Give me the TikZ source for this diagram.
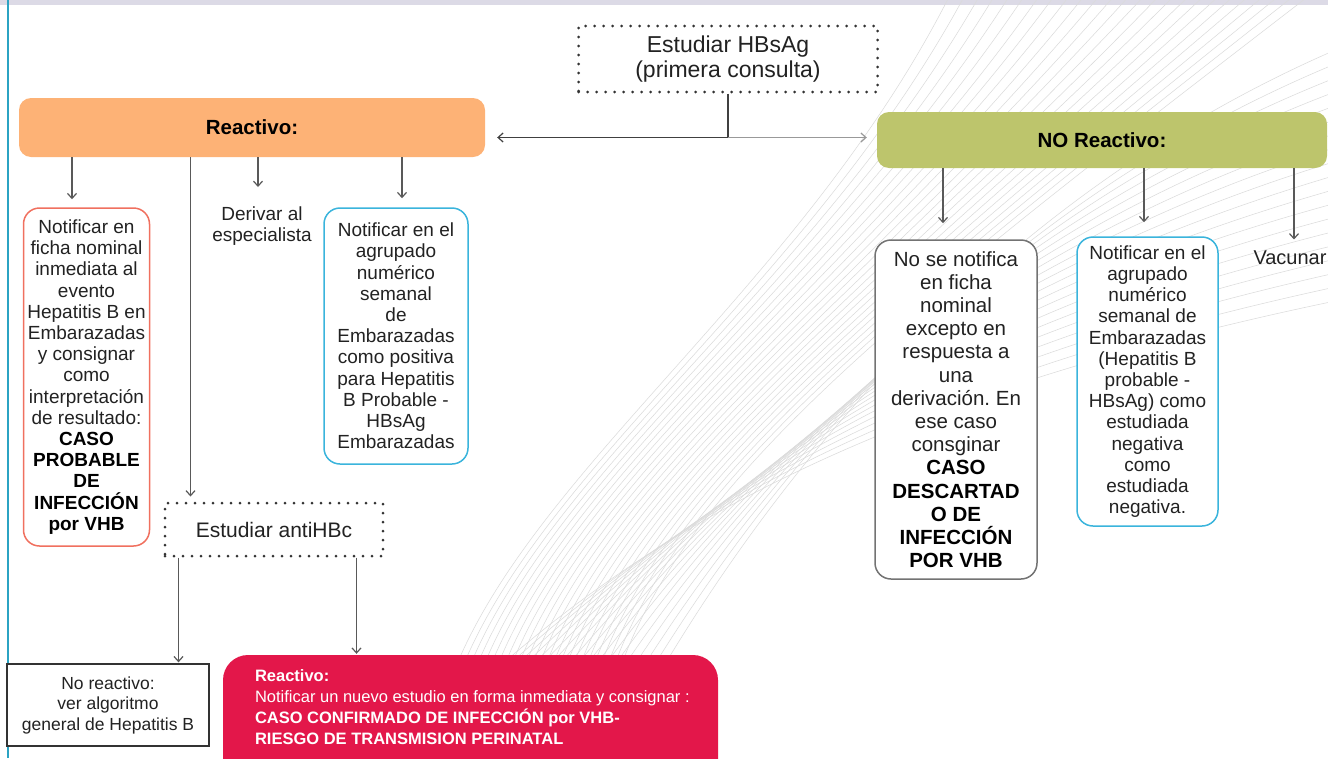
\documentclass[tikz,border=0pt]{standalone}
\usepackage{fontspec}
\setmainfont{Liberation Sans}
\usepackage{tikz}
\usetikzlibrary{arrows.meta, positioning}
\frenchspacing

\definecolor{orangeR}{RGB}{253,178,118}
\definecolor{greenN}{RGB}{189,197,108}
\definecolor{redline}{RGB}{240,112,95}
\definecolor{blueline}{RGB}{58,180,220}
\definecolor{crimson}{RGB}{227,23,74}
\definecolor{sideline}{RGB}{43,163,195}
\definecolor{band}{RGB}{220,218,230}
\definecolor{txt}{RGB}{34,34,34}

\begin{document}
\begin{tikzpicture}[x=1pt, y=-1pt,
        header/.style={rectangle, rounded corners=12pt, text=black, font=\fontsize{20.5}{23}\selectfont\bfseries},
        result/.style={rectangle, rounded corners=16pt, line width=1.5pt, fill=white, align=center, inner sep=2pt, text=txt, font=\fontsize{19}{21.2}\selectfont},
        study/.style={rectangle, draw=black!80, line width=3pt, dash pattern=on 0pt off 9pt, line cap=round, align=center, text=txt},
        line/.style={draw=black!65, line width=1.2pt, -{Straight Barb[length=5pt,width=9pt]}},
        swirl/.style={draw=black!14, line width=0.55pt}
    ]
        \useasboundingbox (0,0) rectangle (1328,758);
        \clip (0,0) rectangle (1328,758);
        % Background
        \fill[band] (0,0) rectangle (1328,5);
        \foreach \i in {0,...,24} {
            \draw[swirl] (430+7*\i,770) .. controls (450+7*\i,520) and (780+4*\i,330) .. (950+15*\i,-5);
        }
        \foreach \i in {0,...,18} {
            \draw[swirl] (390+12*\i,770) .. controls (560+10*\i,600-5*\i) and (760+12*\i,420-12*\i) .. (1340,300-14*\i);
        }
        \draw[sideline, line width=2.5pt] (8,0) -- (8,758);
        % Start node
        \node[study, fill=white, minimum width=299pt, minimum height=66pt, font=\fontsize{23}{25}\selectfont] (hbsag) at (728,59) {Estudiar HBsAg\\(primera consulta)};
        % Results of the first test
        \node[header, fill=orangeR, minimum width=466pt, minimum height=59pt] (reac) at (252,127.5) {Reactivo:};
        \node[header, fill=greenN, minimum width=450pt, minimum height=56pt] (noreac) at (1102,140) {NO Reactivo:};
        % Reactive branch
        \node[result, draw=redline, minimum width=126pt, minimum height=338pt] (probable) at (86.5,377) {Notificar en\\ficha nominal\\inmediata al\\evento\\Hepatitis B en\\Embarazadas\\y consignar\\como\\interpretación\\de resultado:\\\textbf{\color{black}CASO}\\\textbf{\color{black}PROBABLE}\\\textbf{\color{black}DE}\\\textbf{\color{black}INFECCIÓN}\\\textbf{\color{black}por VHB}};
        \node[align=center, text=txt, font=\fontsize{19}{21.2}\selectfont] (derivar) at (262,226) {Derivar al\\especialista};
        \node[result, draw=blueline, minimum width=144pt, minimum height=256pt] (agrupado) at (396,336) {Notificar en el\\agrupado\\numérico\\semanal\\de\\Embarazadas\\como positiva\\para Hepatitis\\B Probable -\\HBsAg\\Embarazadas};
        \node[study, fill=white, minimum width=218pt, minimum height=53pt, font=\fontsize{21}{23}\selectfont] (antihbc) at (274,529.5) {Estudiar antiHBc};
        % Second test
        \node[rectangle, draw=black!80, line width=1.3pt, fill=white, align=center, text=txt, minimum width=202pt, minimum height=82pt, font=\fontsize{17.5}{20.5}\selectfont] (general) at (108,705) {No reactivo:\\ver algoritmo\\general de Hepatitis B};
        \node[rectangle, rounded corners=25pt, fill=crimson, minimum width=495pt, minimum height=135pt] (confirmado) at (470.5,722.5) {};
        \node[anchor=north west, align=left, text=white, inner sep=0pt, font=\fontsize{16.5}{21}\selectfont] (conftext) at ([xshift=32pt, yshift=-15pt]confirmado.north west) {\textbf{Reactivo:}\\Notificar un nuevo estudio en forma inmediata y consignar :\\\textbf{CASO CONFIRMADO DE INFECCIÓN por VHB-}\\\textbf{RIESGO DE TRANSMISION PERINATAL}};
        % Non reactive branch
        \node[result, draw=black!55, minimum width=162pt, minimum height=339pt, font=\fontsize{20.5}{23.2}\selectfont] (descartado) at (956,409.5) {No se notifica\\en ficha\\nominal\\excepto en\\respuesta a\\una\\derivación. En\\ese caso\\consginar\\\textbf{\color{black}CASO}\\\textbf{\color{black}DESCARTAD}\\\textbf{\color{black}O DE}\\\textbf{\color{black}INFECCIÓN}\\\textbf{\color{black}POR VHB}};
        \node[result, draw=blueline, minimum width=141pt, minimum height=289pt] (negativa) at (1147.5,381.5) {Notificar en el\\agrupado\\numérico\\semanal de\\Embarazadas\\(Hepatitis B\\probable -\\HBsAg) como\\estudiada\\negativa\\como\\estudiada\\negativa.};
        \node[text=txt, font=\fontsize{20}{23}\selectfont] (vacunar) at (1290,258) {Vacunar};
        % Connections
        \coordinate (split) at ([yshift=-44pt]hbsag.south);
        \draw[draw=black!75, line width=1.2pt] (hbsag.south) -- (split);
        \path[line, draw=black!75] (split) -- ([xshift=12pt]split -| reac.east);
        \path[line, draw=black!40] (split) -- ([xshift=-10pt]split -| noreac.west);
        \coordinate (p1) at ([xshift=-14.5pt]probable.north);
        \coordinate (p2) at ([xshift=27pt]antihbc.north west);
        \coordinate (p3) at ([xshift=-4pt]derivar.north);
        \coordinate (p4) at ([xshift=6pt]agrupado.north);
        \path[line, shorten >=8pt] (reac.south -| p1) -- (p1);
        \path[line, shorten >=5pt] (reac.south -| p2) -- (p2);
        \path[line, shorten >=16pt] (reac.south -| p3) -- (p3);
        \path[line, shorten >=9pt] (reac.south -| p4) -- (p4);
        \coordinate (a1) at ([xshift=15pt]antihbc.south west);
        \coordinate (a2) at ([xshift=-28pt]antihbc.south east);
        \path[line, shorten >=1pt] (a1) -- (a1 |- general.north);
        \path[line, shorten >=1pt] (a2) -- (a2 |- confirmado.north);
        \coordinate (n1) at ([xshift=-13pt]descartado.north);
        \coordinate (n2) at ([xshift=-3.5pt]negativa.north);
        \coordinate (n3) at ([xshift=4pt]vacunar.north);
        \path[line, shorten >=16pt] (noreac.south -| n1) -- (n1);
        \path[line, shorten >=14pt] (noreac.south -| n2) -- (n2);
        \path[line, shorten >=8pt] (noreac.south -| n3) -- (n3);

    \end{tikzpicture}
\end{document}
